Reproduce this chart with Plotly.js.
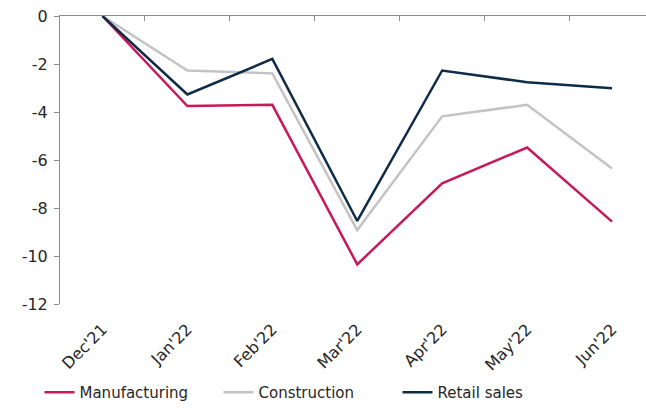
<!DOCTYPE html>
<html>
<head>
<meta charset="utf-8">
<script src="https://cdn.plot.ly/plotly-3.0.1.min.js"></script>
<style>html,body{margin:0;padding:0;background:#fff;}#chart{width:646px;height:409px;}</style>
</head>
<body>
<div id="chart"></div>
<script>
const months = ["Dec'21", "Jan'22", "Feb'22", "Mar'22", "Apr'22", "May'22", "Jun'22"];
const manufacturing = [0, -3.75, -3.7, -10.35, -6.97, -5.48, -8.57];
const construction = [0, -2.27, -2.39, -8.92, -4.18, -3.7, -6.35];
const retailSales = [0, -3.27, -1.79, -8.54, -2.27, -2.76, -3.01];
const yTicks = [0, -2, -4, -6, -8, -10, -12];

const FONT = "'DejaVu Sans', sans-serif";
const axisGray = '#8c8c8c';

const traces = [
  {x: months, y: manufacturing, name: 'Manufacturing', type: 'scatter', mode: 'lines',
   line: {color: '#C8195A', width: 2.5}},
  {x: months, y: construction, name: 'Construction', type: 'scatter', mode: 'lines',
   line: {color: '#C3C3C3', width: 2.5}},
  {x: months, y: retailSales, name: 'Retail sales', type: 'scatter', mode: 'lines',
   line: {color: '#0E2B47', width: 2.5}},
  {x: months, y: retailSales, xaxis: 'x2', type: 'scatter', mode: 'lines',
   line: {width: 0}, opacity: 0, showlegend: false, hoverinfo: 'skip'}
];

const layout = {
  width: 646, height: 409,
  margin: {l: 60, r: 0, t: 16, b: 102},
  paper_bgcolor: '#fff', plot_bgcolor: '#fff',
  font: {family: FONT, color: '#262626', size: 16},
  showlegend: true,
  legend: {orientation: 'h', x: -0.035, xanchor: 'left', y: -0.308, yanchor: 'middle',
           font: {size: 15, color: '#262626'}, entrywidth: 134, entrywidthmode: 'pixels',
           itemwidth: 30},
  xaxis: {type: 'category', range: [-0.5, 6.4], showline: false, showgrid: false,
          zeroline: false, ticks: '', tickangle: -45, tickfont: {size: 16},
          ticklabelstandoff: 12, automargin: false},
  xaxis2: {type: 'category', overlaying: 'x', anchor: 'y', side: 'top', matches: 'x',
           range: [-0.5, 6.4], showline: true, linecolor: axisGray, linewidth: 1,
           ticks: 'inside', ticklen: 5, tickcolor: axisGray, tickson: 'boundaries',
           showticklabels: false, showgrid: false, zeroline: false},
  yaxis: {range: [-12, 0], tickvals: yTicks, ticktext: yTicks.map(String),
          showline: true, linecolor: axisGray, linewidth: 1,
          ticks: 'outside', ticklen: 5, tickcolor: axisGray, automargin: false,
          ticklabelstandoff: 3,
          showgrid: false, zeroline: false, tickfont: {size: 16}}
};

Plotly.newPlot('chart', traces, layout, {staticPlot: true, displayModeBar: false});
</script>
</body>
</html>
